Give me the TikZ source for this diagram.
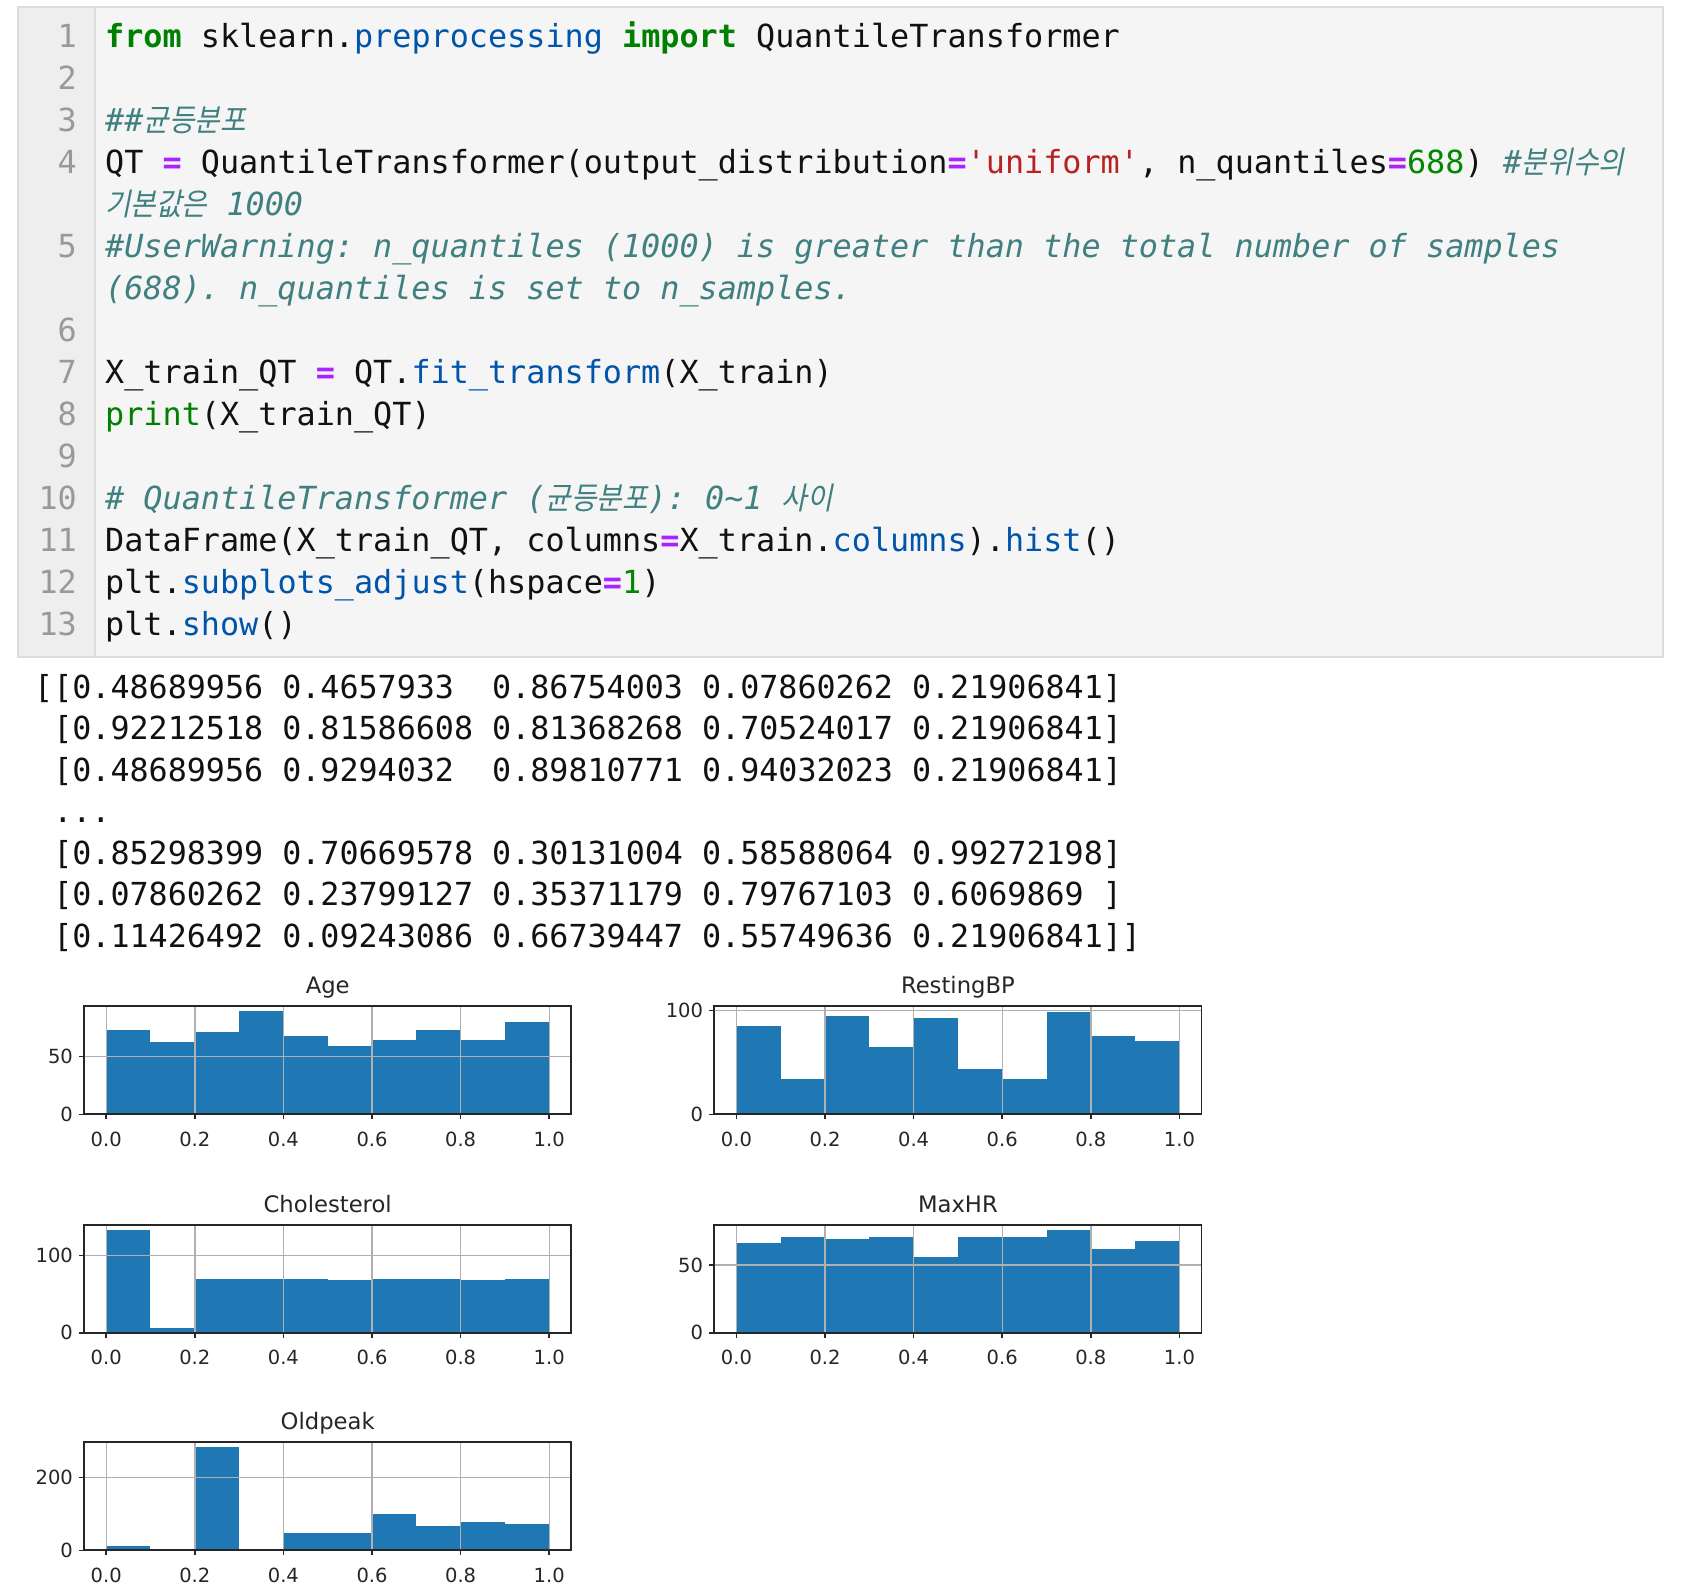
\documentclass[tikz,border=0pt]{standalone}
\usepackage{fontspec}
\usepackage{tikz}
\newfontfamily\codefont{DejaVu Sans Mono}
\newfontfamily\kritfont{Noto Sans CJK KR}[FakeSlant=0.2,FakeStretch=0.9,Scale=0.97]
\newfontfamily\plotfont{DejaVu Sans}
\frenchspacing
\definecolor{codeblack}{HTML}{111111}
\definecolor{numgray}{HTML}{999999}
\definecolor{kwgreen}{HTML}{008000}
\definecolor{propblue}{HTML}{0055AA}
\definecolor{oppurple}{HTML}{AA22FF}
\definecolor{strred}{HTML}{BA2121}
\definecolor{numgreen}{HTML}{008800}
\definecolor{cmtteal}{HTML}{408080}
\definecolor{cellbg}{HTML}{F5F5F5}
\definecolor{gutterbg}{HTML}{EEEEEE}
\definecolor{cellborder}{HTML}{DDDDDD}
\definecolor{barblue}{HTML}{1F77B4}
\definecolor{gridgray}{HTML}{B0B0B0}
\definecolor{axdark}{HTML}{262626}
\newcommand\cKw[1]{\textcolor{kwgreen}{\bfseries #1}}
\newcommand\cProp[1]{\textcolor{propblue}{#1}}
\newcommand\cOp[1]{\textcolor{oppurple}{\bfseries #1}}
\newcommand\cStr[1]{\textcolor{strred}{#1}}
\newcommand\cNum[1]{\textcolor{numgreen}{#1}}
\newcommand\cBi[1]{\textcolor{kwgreen}{#1}}
\newcommand\cCmt[1]{\textcolor{cmtteal}{\itshape #1}}
\newcommand\krtext[1]{{\kritfont #1}}
\tikzset{codeline/.style={anchor=base west,inner sep=0pt,
font=\codefont\fontsize{31.8}{38}\selectfont,text=codeblack}}
\tikzset{lineno/.style={anchor=base east,inner sep=0pt,
font=\codefont\fontsize{31.8}{38}\selectfont,text=numgray}}
\tikzset{outrow/.style={anchor=base west,inner sep=0pt,
font=\codefont\fontsize{31.7}{38}\selectfont,text=codeblack}}
\tikzset{barfill/.style={fill=barblue}}
\tikzset{gridline/.style={draw=gridgray,line width=1.4pt}}
\tikzset{axframe/.style={draw=axdark,line width=1.8pt}}
\tikzset{tickmark/.style={draw=axdark,line width=1.6pt}}
\tikzset{xlbl/.style={anchor=base,inner sep=0pt,
font=\plotfont\fontsize{19.5}{22}\selectfont,text=axdark}}
\tikzset{ylbl/.style={anchor=east,inner sep=0pt,
font=\plotfont\fontsize{19.5}{22}\selectfont,text=axdark}}
\tikzset{plottitle/.style={anchor=base,inner sep=0pt,
font=\plotfont\fontsize{22.7}{26}\selectfont,text=axdark}}
% one histogram: name, origin, ymax, title, y ticks, bar heights
\newcommand\histpanel[6]{%
\begin{scope}[shift={(#2)},x=443pt,y={(0pt,{108pt/#3})}]
  \foreach \h [count=\i from 0] in {#6}
    \fill[barfill] (\i/10,0) rectangle ({(\i+1)/10},\h);
  \foreach \t in {0,0.2,0.4,0.6,0.8,1}
    \draw[gridline] (\t,0) -- (\t,#3);
  \foreach \v in {#5}
    \draw[gridline] (-0.05,\v) -- (1.05,\v);
  \draw[axframe] (-0.05,0) rectangle (1.05,#3);
  \foreach \t/\lbl [count=\i] in {0/0.0,0.2/0.2,0.4/0.4,0.6/0.6,0.8/0.8,1/1.0}{
    \draw[tickmark] (\t,0) -- ++(0,-5pt);
    \node[xlbl] (#1x\i) at ([yshift=-32pt]\t,0) {\lbl};
  }
  \foreach \v in {#5}{
    \draw[tickmark] (-0.05,\v) -- ++(-5pt,0);
    \node[ylbl] (#1y\v) at ([xshift=-11pt]-0.05,\v) {\v};
  }
  \node[plottitle] (#1t) at ([yshift=12.7pt]0.5,#3) {#4};
\end{scope}}

\begin{document}
\begin{tikzpicture}[x=1pt,y=-1pt]
    \fill[white] (0,0) rectangle (1688,1592);
    \useasboundingbox (0,0) rectangle (1688,1592);

    % code cell
    \fill[cellbg] (18,7) rectangle (1663,657);
    \fill[gutterbg] (18,7) rectangle (95,657);
    \draw[cellborder,line width=1.5pt] (95,7) -- (95,657);
    \draw[cellborder,line width=2pt] (18,7) rectangle (1663,657);

    \foreach \n/\r in {1/0,2/1,3/2,4/3,5/5,6/7,7/8,8/9,9/10,10/11,11/12,12/13,13/14}
        \node[lineno] (num\n) at (77,{48+41.93*\r}) {\n};

    \node[codeline] (code1) at ([xshift=28pt]num1.base east) {\cKw{from} sklearn.\cProp{preprocessing} \cKw{import} QuantileTransformer};
    \node[codeline] (code3) at ([xshift=28pt]num3.base east) {\cCmt{\#\#\krtext{균등분포}}};
    \node[codeline] (code4) at ([xshift=28pt]num4.base east) {QT \cOp{=} QuantileTransformer(output\_distribution\cOp{=}\cStr{'uniform'}, n\_quantiles\cOp{=}\cNum{688}) \cCmt{\#\krtext{분위수의}}};
    \node[codeline] (code4b) at ([yshift=-41.93pt]code4.base west) {\cCmt{\krtext{기본값은} 1000}};
    \node[codeline] (code5) at ([xshift=28pt]num5.base east) {\cCmt{\#UserWarning: n\_quantiles (1000) is greater than the total number of samples}};
    \node[codeline] (code5b) at ([yshift=-41.93pt]code5.base west) {\cCmt{(688). n\_quantiles is set to n\_samples.}};
    \node[codeline] (code7) at ([xshift=28pt]num7.base east) {X\_train\_QT \cOp{=} QT.\cProp{fit\_transform}(X\_train)};
    \node[codeline] (code8) at ([xshift=28pt]num8.base east) {\cBi{print}(X\_train\_QT)};
    \node[codeline] (code10) at ([xshift=28pt]num10.base east) {\cCmt{\# QuantileTransformer (\krtext{균등분포}): 0\textasciitilde1 \krtext{사이}}};
    \node[codeline] (code11) at ([xshift=28pt]num11.base east) {DataFrame(X\_train\_QT, columns\cOp{=}X\_train.\cProp{columns}).\cProp{hist}()};
    \node[codeline] (code12) at ([xshift=28pt]num12.base east) {plt.\cProp{subplots\_adjust}(hspace\cOp{=}\cNum{1})};
    \node[codeline] (code13) at ([xshift=28pt]num13.base east) {plt.\cProp{show}()};

    % printed array
    \node[outrow] (out1) at (34,698.4) {[[0.48689956 0.4657933\ \ 0.86754003 0.07860262 0.21906841]};
    \node[outrow] (out2) at ([yshift=-41.5pt]out1.base west) {\ [0.92212518 0.81586608 0.81368268 0.70524017 0.21906841]};
    \node[outrow] (out3) at ([yshift=-41.5pt]out2.base west) {\ [0.48689956 0.9294032\ \ 0.89810771 0.94032023 0.21906841]};
    \node[outrow] (out4) at ([yshift=-41.5pt]out3.base west) {\ ...};
    \node[outrow] (out5) at ([yshift=-41.5pt]out4.base west) {\ [0.85298399 0.70669578 0.30131004 0.58588064 0.99272198]};
    \node[outrow] (out6) at ([yshift=-41.5pt]out5.base west) {\ [0.07860262 0.23799127 0.35371179 0.79767103 0.6069869 ]};
    \node[outrow] (out7) at ([yshift=-41.5pt]out6.base west) {\ [0.11426492 0.09243086 0.66739447 0.55749636 0.21906841]]};

    % histograms
    \histpanel{age}{106.2,1114.3}{93.45}{Age}{0,50}{73,62.7,71.4,89,67.9,59,64.5,73,64.5,80}
    \histpanel{bp}{736.4,1114.3}{104}{RestingBP}{0,100}{85,34,95,65,93,44,34,99,75,71}
    \histpanel{chol}{106.2,1332.7}{139.6}{Cholesterol}{0,100}{133,6,70,70,70,68,70,70,68,70}
    \histpanel{hr}{736.4,1332.7}{79.8}{MaxHR}{0,50}{66.6,70.7,69.5,70.7,56.1,70.7,70.7,76,62,67.8}
    \histpanel{oldpeak}{106.2,1550.3}{297}{Oldpeak}{0,200}{12,0,283,0,49,49,99,66,77,71.5}

\end{tikzpicture}
\end{document}
